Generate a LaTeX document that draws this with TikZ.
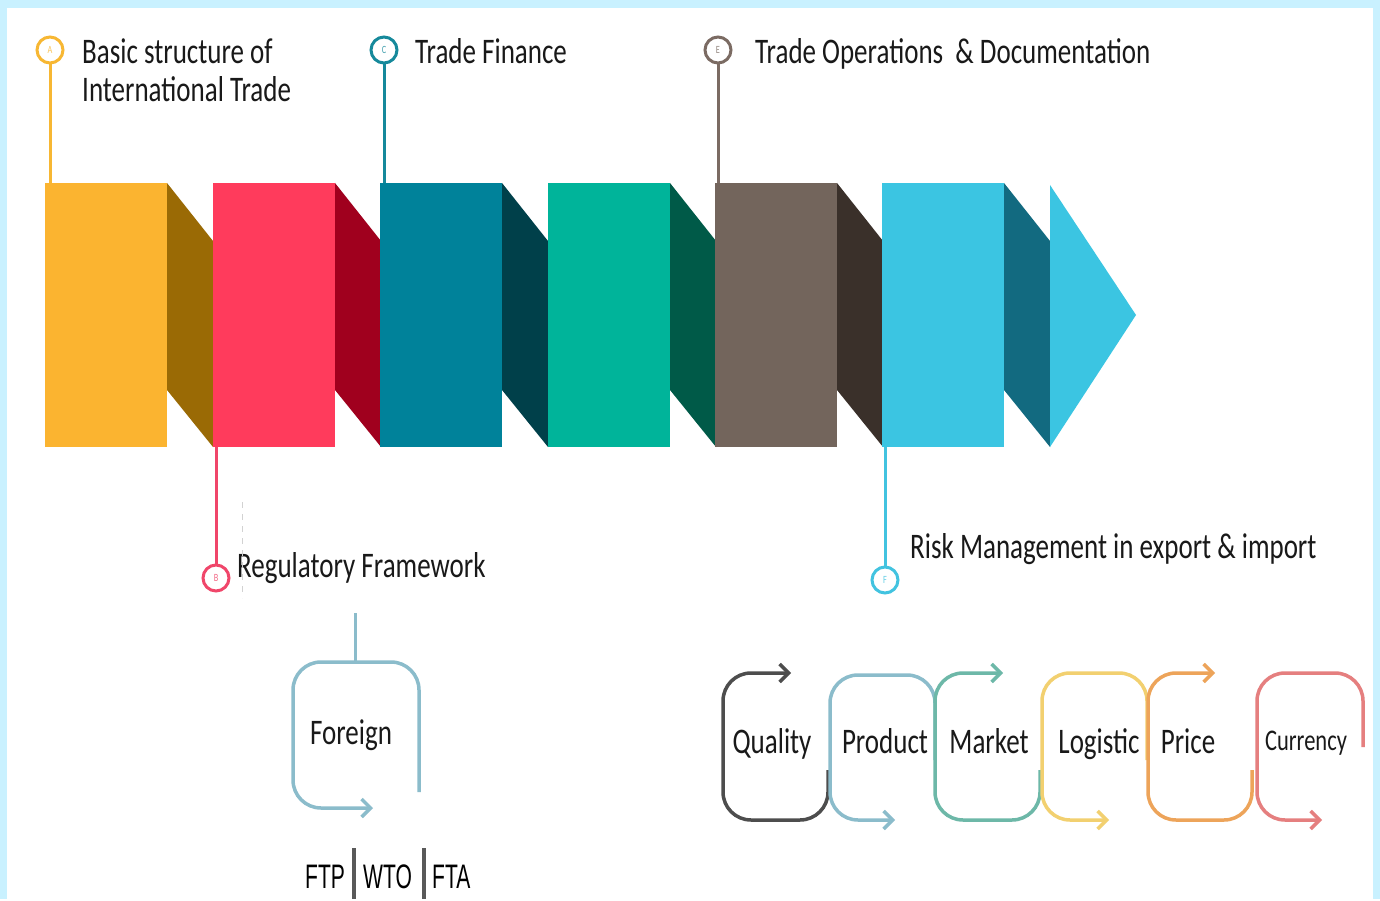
\documentclass[tikz,border=0pt]{standalone}
\usepackage{fontspec}
\setmainfont{Carlito}[FakeStretch=0.75]
\newfontfamily\narrowf{Liberation Sans}[FakeStretch=0.62]
\usetikzlibrary{arrows.meta}
\definecolor{bgblue}{HTML}{C9F1FF}
\definecolor{yelF}{HTML}{FBB430}\definecolor{yelS}{HTML}{9A6A05}
\definecolor{redF}{HTML}{FF3B5C}\definecolor{redS}{HTML}{A0001E}
\definecolor{tealF}{HTML}{00829A}\definecolor{tealS}{HTML}{00404A}
\definecolor{grnF}{HTML}{00B49A}\definecolor{grnS}{HTML}{005A48}
\definecolor{brnF}{HTML}{73655C}\definecolor{brnS}{HTML}{3A302A}
\definecolor{lbF}{HTML}{3BC5E2}\definecolor{lbS}{HTML}{126A80}
\definecolor{cA}{HTML}{F7B733}\definecolor{cB}{HTML}{F0466A}
\definecolor{cC}{HTML}{16899B}\definecolor{cE}{HTML}{7B6B63}
\definecolor{cF}{HTML}{42C3E0}
\definecolor{lQ}{HTML}{4D4D4D}\definecolor{lP}{HTML}{8BBCCB}
\definecolor{lM}{HTML}{6DB8A8}\definecolor{lL}{HTML}{F2D070}
\definecolor{lPr}{HTML}{EDA45A}\definecolor{lC}{HTML}{E57F7F}
\begin{document}
\begin{tikzpicture}[x=1pt,y=-1pt,
  lbl/.style={anchor=base west,inner sep=0pt,font=\fontsize{36}{42}\selectfont,text=black!90},
  ltr/.style={circle,draw=#1,line width=3pt,fill=white,minimum size=26pt,inner sep=0pt,text=#1!80,font=\fontsize{11}{11}\selectfont},
  stem/.style={draw=#1,line width=3pt},
  loop/.style={draw=#1,line width=3.5pt,rounded corners=28pt,-{Straight Barb[length=9pt,width=18pt]}},
  word/.style={anchor=base,inner sep=0pt,font=\fontsize{36}{42}\selectfont,text=black!90}
]
% background
\fill[bgblue] (0,0) rectangle (1380,899);
\fill[white] (7,8) rectangle (1373,899);

% blocks
\foreach \x/\f/\s in {45/yelF/yelS,213/redF/redS,380/tealF/tealS,548/grnF/grnS,715/brnF/brnS,882/lbF/lbS}{
  \fill[\f] (\x,183) rectangle (\x+122,447);
  \fill[\s] (\x+122,183) -- (\x+168,241) -- (\x+168,447) -- (\x+122,390) -- cycle;
}
\fill[lbF] (1050,185) -- (1136,315) -- (1050,447) -- cycle;

% coordinates on blocks
\coordinate (tA) at (50,183);
\coordinate (tC) at (384,183);
\coordinate (tE) at (718,183);
\coordinate (bB) at (216,447);
\coordinate (bF) at (885,447);

% callouts
\node[ltr=cA] (A) at (50,50) {A};
\node[ltr=cC] (C) at (384,50) {C};
\node[ltr=cE] (E) at (718,50) {E};
\node[ltr=cB] (B) at (216,578) {B};
\node[ltr=cF] (F) at (885,580) {F};
\draw[stem=cA] (A.south) -- (tA);
\draw[stem=cC] (C.south) -- (tC);
\draw[stem=cE] (E.south) -- (tE);
\draw[stem=cB] (bB) -- (B.north);
\draw[stem=cF] (bF) -- (F.north);

\node[lbl] (tA1) at (82,64) {Basic structure of};
\node[lbl] (tA2) at (82,102) {International Trade};
\node[lbl] (tC1) at (415,64) {Trade Finance};
\node[lbl] (tE1) at (755,64) {Trade Operations\ \ \& Documentation};
\node[lbl] (tB1) at (237,577) {Regulatory Framework};
\node[lbl] (tF1) at (910,558) {Risk Management in export \& import};
\coordinate (d1) at (242,502);
\coordinate (d2) at (242,598);
\draw[gray!35,line width=1pt,dash pattern=on 6pt off 6pt] (d1) -- (d2);

% Foreign loop
\coordinate (fs) at (355,613);
\coordinate (ft) at (355,662);
\draw[draw=lP,line width=3pt] (fs) -- (ft);
\draw[loop=lP] (419,792) -- (419,662) -- (293,662) -- (293,808) -- (373,808);
\node[word] (foreign) at (351,744) {Foreign};

% FTP WTO FTA
\coordinate (b1t) at (354,848);\coordinate (b1b) at (354,899);
\coordinate (b2t) at (424,848);\coordinate (b2b) at (424,899);
\draw[black!65,line width=4pt] (b1t) -- (b1b);
\draw[black!65,line width=4pt] (b2t) -- (b2b);
\node[anchor=base west,inner sep=0pt,font=\narrowf\fontsize{34}{38}\selectfont] (ftp) at (305,888) {FTP};
\node[anchor=base west,inner sep=0pt,font=\narrowf\fontsize{34}{38}\selectfont] (wto) at (363,888) {WTO};
\node[anchor=base west,inner sep=0pt,font=\narrowf\fontsize{34}{38}\selectfont] (fta) at (432,888) {FTA};

% risk chain
\draw[loop=lQ] (828,770) -- (828,820) -- (723,820) -- (723,673) -- (791,673);
\draw[loop=lP] (935,760) -- (935,675) -- (830,675) -- (830,820) -- (895,820);
\draw[loop=lM] (1040,770) -- (1040,820) -- (935,820) -- (935,673) -- (1003,673);
\draw[loop=lL] (1147,760) -- (1147,673) -- (1042,673) -- (1042,820) -- (1109,820);
\draw[loop=lPr] (1252,770) -- (1252,820) -- (1148,820) -- (1148,673) -- (1215,673);
\draw[loop=lC] (1363,747) -- (1363,673) -- (1257,673) -- (1257,820) -- (1322,820);

\node[word] (q) at (772,753) {Quality};
\node[word] (p) at (885,753) {Product};
\node[word] (m) at (989,753) {Market};
\node[word] (l) at (1099,753) {Logistic};
\node[word] (pr) at (1188,753) {Price};
\node[word,font=\fontsize{30}{34}\selectfont] (cu) at (1306,750) {Currency};
\end{tikzpicture}
\end{document}
